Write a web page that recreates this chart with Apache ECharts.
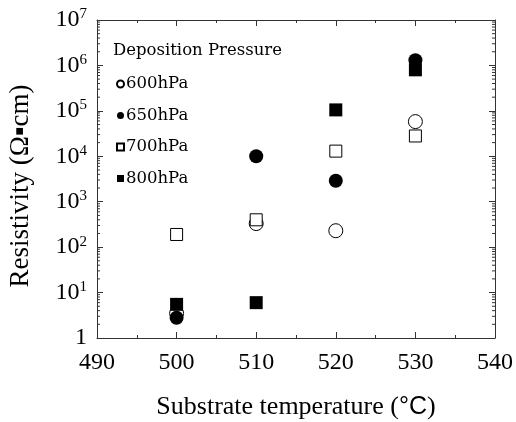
<!DOCTYPE html>
<html>
<head>
<meta charset="utf-8">
<script src="https://cdn.jsdelivr.net/npm/echarts@6/dist/echarts.min.js"></script>
<style>html,body{margin:0;padding:0;background:#fff}#c{width:516px;height:422px}</style>
</head>
<body>
<div id="c"></div>
<script>
const temps600 = [500, 510, 520, 530];
const vals600 = [3.5, 330, 230, 58000];
const temps650 = [500, 510, 520, 530];
const vals650 = [2.8, 10000, 2900, 1300000];
const temps700 = [500, 510, 520, 530];
const vals700 = [190, 400, 13000, 28000];
const temps800 = [500, 510, 520, 530];
const vals800 = [5.5, 6, 105000, 800000];
const seriesNames = ['600hPa', '650hPa', '700hPa', '800hPa'];
const xTicks = [490, 500, 510, 520, 530, 540];
const yDecades = [0, 1, 2, 3, 4, 5, 6, 7];
const minorMultipliers = [2, 3, 4, 5, 6, 7, 8, 9];

const serif = '"Liberation Serif", "DejaVu Serif", serif';
const wideSerif = '"DejaVu Serif", serif';
const zip = (a, b) => a.map((v, i) => [v, b[i]]);

const minorVals = [];
yDecades.slice(0, -1).forEach(d => minorMultipliers.forEach(m => minorVals.push([m * Math.pow(10, d)])));

const chart = echarts.init(document.getElementById('c'), null, {renderer: 'canvas'});
const axisLine = {show: true, lineStyle: {color: '#333', width: 1}};
chart.setOption({
  animation: false,
  backgroundColor: '#fff',
  grid: {left: 97, right: 21, top: 20, bottom: 84, containLabel: false, outerBoundsMode: 'none'},
  title: {
    text: 'Deposition Pressure', left: 108, top: 37,
    textStyle: {fontFamily: wideSerif, fontSize: 16.5, fontWeight: 'normal', color: '#000'}
  },
  legend: {
    orient: 'vertical', left: 111, top: 70,
    itemWidth: 7, itemHeight: 7, itemGap: 13.5,
    textStyle: {fontFamily: wideSerif, fontSize: 16.5, lineHeight: 18, color: '#000', padding: [0, 0, 0, -3]},
    data: seriesNames
  },
  xAxis: [{
    type: 'value', min: xTicks[0], max: xTicks[xTicks.length - 1], interval: 10,
    axisLine: axisLine,
    axisTick: {show: true, inside: true, length: 6, lineStyle: {color: '#333'}},
    minorTick: {show: true, splitNumber: 2, length: 3, lineStyle: {color: '#333'}},
    splitLine: {show: false},
    axisLabel: {fontFamily: serif, fontSize: 24, color: '#000', margin: 13},
    name: '{t|Substrate temperature (}{c|°C}{t|)}',
    nameLocation: 'middle', nameGap: 56,
    nameTextStyle: {rich: {
      t: {fontFamily: serif, fontSize: 26, color: '#000'},
      c: {fontFamily: '"Liberation Sans", Arial, sans-serif', fontSize: 25, color: '#000'}
    }}
  }, {
    type: 'value', position: 'top', min: xTicks[0], max: xTicks[xTicks.length - 1], interval: 10,
    axisLine: axisLine,
    axisTick: {show: true, inside: true, length: 6, lineStyle: {color: '#333'}},
    minorTick: {show: true, splitNumber: 2, length: 3, lineStyle: {color: '#333'}},
    splitLine: {show: false}, axisLabel: {show: false}
  }],
  yAxis: [{
    type: 'log', logBase: 10, min: 1, max: 1e7,
    axisLine: axisLine,
    axisTick: {show: true, inside: true, length: 6, lineStyle: {color: '#333'}},
    splitLine: {show: false},
    axisLabel: {
      margin: 10,
      formatter: v => {
        const e = Math.round(Math.log10(v));
        return e === 0 ? '{b|1}' : '{b|10}{s|' + e + '}';
      },
      rich: {
        b: {fontFamily: serif, fontSize: 24, color: '#000'},
        s: {fontFamily: serif, fontSize: 15, color: '#000', verticalAlign: 'bottom', padding: [0, 0, 11, 0]}
      }
    },
    name: 'Resistivity (Ω▪cm)', nameLocation: 'middle', nameGap: 63, nameRotate: 90,
    nameTextStyle: {fontFamily: serif, fontSize: 27, color: '#000', padding: [0, 14, 0, 0]}
  }, {
    type: 'log', logBase: 10, min: 1, max: 1e7, position: 'right',
    axisLine: axisLine,
    axisTick: {show: true, inside: true, length: 6, lineStyle: {color: '#333'}},
    splitLine: {show: false}, axisLabel: {show: false}
  }],
  series: [
    {name: seriesNames[0], type: 'scatter', symbol: 'circle', symbolSize: 14,
     itemStyle: {color: '#fff', borderColor: '#000', borderWidth: 1, opacity: 1},
     data: zip(temps600, vals600)},
    {name: seriesNames[1], type: 'scatter', symbol: 'circle', symbolSize: 14,
     itemStyle: {color: '#000', opacity: 1},
     data: zip(temps650, vals650)},
    {name: seriesNames[2], type: 'scatter', symbol: 'rect', symbolSize: 12,
     itemStyle: {color: '#fff', borderColor: '#000', borderWidth: 1, opacity: 1},
     data: zip(temps700, vals700)},
    {name: seriesNames[3], type: 'scatter', symbol: 'rect', symbolSize: 13,
     itemStyle: {color: '#000', opacity: 1},
     data: zip(temps800, vals800)},
    {name: 'minor', type: 'custom', silent: true, z: 1,
     encode: {y: 0},
     renderItem: (params, api) => {
       const v = api.value(0);
       const l = api.coord([xTicks[0], v]);
       const r = api.coord([xTicks[xTicks.length - 1], v]);
       const st = {stroke: '#333', lineWidth: 1};
       return {type: 'group', children: [
         {type: 'line', shape: {x1: l[0], y1: l[1], x2: l[0] + 3, y2: l[1]}, style: st},
         {type: 'line', shape: {x1: r[0], y1: r[1], x2: r[0] - 3, y2: r[1]}, style: st}
       ]};
     },
     data: minorVals}
  ]
});
</script>
</body>
</html>
